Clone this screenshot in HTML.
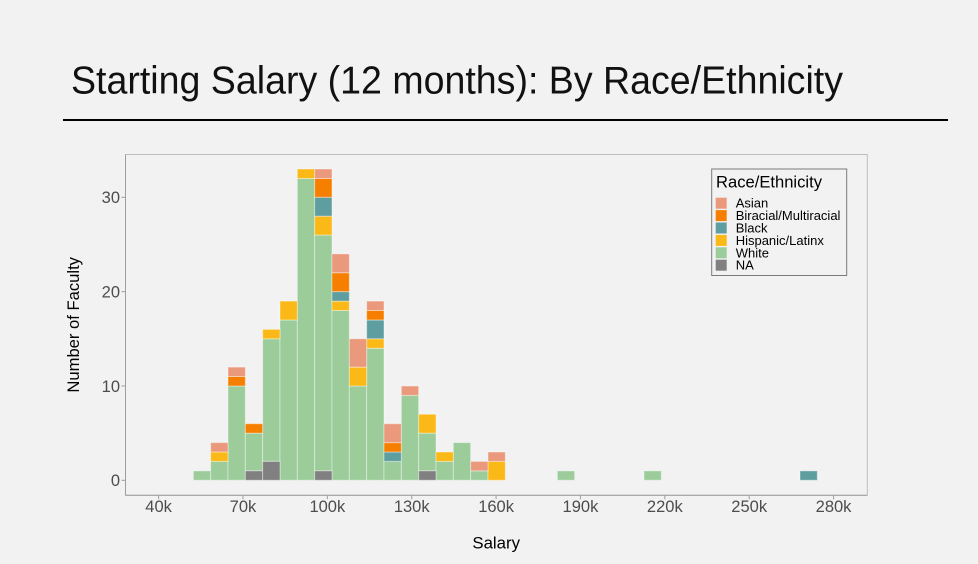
<!DOCTYPE html>
<html>
<head>
<meta charset="utf-8">
<style>
html,body{margin:0;padding:0;background:#f2f2f2;}
svg{display:block;}
text{font-family:"Liberation Sans",Arial,sans-serif;}
</style>
</head>
<body>
<svg width="978" height="564" viewBox="0 0 978 564" xmlns="http://www.w3.org/2000/svg">
<rect x="0" y="0" width="978" height="564" fill="#f2f2f2"/>
<!-- Title -->
<text x="71" y="93.3" font-size="39" fill="#111" textLength="772" lengthAdjust="spacingAndGlyphs">Starting Salary (12 months): By Race/Ethnicity</text>
<rect x="63" y="119" width="885" height="2" fill="#000"/>

<!-- Panel -->
<rect x="125.5" y="154.5" width="741.8" height="340.8" fill="#f2f2f2" stroke="#bdbdbd" stroke-width="1"/>
<line x1="125.5" y1="154.5" x2="125.5" y2="495.3" stroke="#9e9e9e" stroke-width="1"/>
<line x1="125.5" y1="495.3" x2="867.3" y2="495.3" stroke="#9e9e9e" stroke-width="1"/>

<!-- Bars -->
<g transform="translate(193.33,480.3) scale(17.333,-9.433)" stroke="#ffffff" stroke-opacity="0.4" stroke-width="1">
<g fill="#9BCC9A">
<rect vector-effect="non-scaling-stroke" x="0" y="0" width="1" height="1"/>
<rect vector-effect="non-scaling-stroke" x="1" y="0" width="1" height="2"/>
<rect vector-effect="non-scaling-stroke" x="2" y="0" width="1" height="10"/>
<rect vector-effect="non-scaling-stroke" x="3" y="1" width="1" height="4"/>
<rect vector-effect="non-scaling-stroke" x="4" y="2" width="1" height="13"/>
<rect vector-effect="non-scaling-stroke" x="5" y="0" width="1" height="17"/>
<rect vector-effect="non-scaling-stroke" x="6" y="0" width="1" height="32"/>
<rect vector-effect="non-scaling-stroke" x="7" y="1" width="1" height="25"/>
<rect vector-effect="non-scaling-stroke" x="8" y="0" width="1" height="18"/>
<rect vector-effect="non-scaling-stroke" x="9" y="0" width="1" height="10"/>
<rect vector-effect="non-scaling-stroke" x="10" y="0" width="1" height="14"/>
<rect vector-effect="non-scaling-stroke" x="11" y="0" width="1" height="2"/>
<rect vector-effect="non-scaling-stroke" x="12" y="0" width="1" height="9"/>
<rect vector-effect="non-scaling-stroke" x="13" y="1" width="1" height="4"/>
<rect vector-effect="non-scaling-stroke" x="14" y="0" width="1" height="2"/>
<rect vector-effect="non-scaling-stroke" x="15" y="0" width="1" height="4"/>
<rect vector-effect="non-scaling-stroke" x="16" y="0" width="1" height="1"/>
<rect vector-effect="non-scaling-stroke" x="21" y="0" width="1" height="1"/>
<rect vector-effect="non-scaling-stroke" x="26" y="0" width="1" height="1"/>
</g>
<g fill="#808080">
<rect vector-effect="non-scaling-stroke" x="3" y="0" width="1" height="1"/>
<rect vector-effect="non-scaling-stroke" x="4" y="0" width="1" height="2"/>
<rect vector-effect="non-scaling-stroke" x="7" y="0" width="1" height="1"/>
<rect vector-effect="non-scaling-stroke" x="13" y="0" width="1" height="1"/>
</g>
<g fill="#FBB917">
<rect vector-effect="non-scaling-stroke" x="1" y="2" width="1" height="1"/>
<rect vector-effect="non-scaling-stroke" x="4" y="15" width="1" height="1"/>
<rect vector-effect="non-scaling-stroke" x="5" y="17" width="1" height="2"/>
<rect vector-effect="non-scaling-stroke" x="6" y="32" width="1" height="1"/>
<rect vector-effect="non-scaling-stroke" x="7" y="26" width="1" height="2"/>
<rect vector-effect="non-scaling-stroke" x="8" y="18" width="1" height="1"/>
<rect vector-effect="non-scaling-stroke" x="9" y="10" width="1" height="2"/>
<rect vector-effect="non-scaling-stroke" x="10" y="14" width="1" height="1"/>
<rect vector-effect="non-scaling-stroke" x="13" y="5" width="1" height="2"/>
<rect vector-effect="non-scaling-stroke" x="14" y="2" width="1" height="1"/>
<rect vector-effect="non-scaling-stroke" x="17" y="0" width="1" height="2"/>
</g>
<g fill="#5F9EA0">
<rect vector-effect="non-scaling-stroke" x="7" y="28" width="1" height="2"/>
<rect vector-effect="non-scaling-stroke" x="8" y="19" width="1" height="1"/>
<rect vector-effect="non-scaling-stroke" x="10" y="15" width="1" height="2"/>
<rect vector-effect="non-scaling-stroke" x="11" y="2" width="1" height="1"/>
<rect vector-effect="non-scaling-stroke" x="35" y="0" width="1" height="1"/>
</g>
<g fill="#F77F00">
<rect vector-effect="non-scaling-stroke" x="2" y="10" width="1" height="1"/>
<rect vector-effect="non-scaling-stroke" x="3" y="5" width="1" height="1"/>
<rect vector-effect="non-scaling-stroke" x="7" y="30" width="1" height="2"/>
<rect vector-effect="non-scaling-stroke" x="8" y="20" width="1" height="2"/>
<rect vector-effect="non-scaling-stroke" x="10" y="17" width="1" height="1"/>
<rect vector-effect="non-scaling-stroke" x="11" y="3" width="1" height="1"/>
</g>
<g fill="#EA997D">
<rect vector-effect="non-scaling-stroke" x="1" y="3" width="1" height="1"/>
<rect vector-effect="non-scaling-stroke" x="2" y="11" width="1" height="1"/>
<rect vector-effect="non-scaling-stroke" x="7" y="32" width="1" height="1"/>
<rect vector-effect="non-scaling-stroke" x="8" y="22" width="1" height="2"/>
<rect vector-effect="non-scaling-stroke" x="9" y="12" width="1" height="3"/>
<rect vector-effect="non-scaling-stroke" x="10" y="18" width="1" height="1"/>
<rect vector-effect="non-scaling-stroke" x="11" y="4" width="1" height="2"/>
<rect vector-effect="non-scaling-stroke" x="12" y="9" width="1" height="1"/>
<rect vector-effect="non-scaling-stroke" x="16" y="1" width="1" height="1"/>
<rect vector-effect="non-scaling-stroke" x="17" y="2" width="1" height="1"/>
</g>
</g>

<!-- Y axis ticks -->
<g stroke="#9e9e9e" stroke-width="1">
<line x1="121.5" y1="480.3" x2="125.5" y2="480.3"/>
<line x1="121.5" y1="385.97" x2="125.5" y2="385.97"/>
<line x1="121.5" y1="291.64" x2="125.5" y2="291.64"/>
<line x1="121.5" y1="197.31" x2="125.5" y2="197.31"/>
</g>
<g font-size="16.5" fill="#4d4d4d" text-anchor="end">
<text x="120" y="486.2">0</text>
<text x="120" y="391.9">10</text>
<text x="120" y="297.5">20</text>
<text x="120" y="203.2">30</text>
</g>

<!-- X axis ticks -->
<g stroke="#9e9e9e" stroke-width="1">
<line x1="158.6" y1="495.3" x2="158.6" y2="499.3"/>
<line x1="242.97" y1="495.3" x2="242.97" y2="499.3"/>
<line x1="327.34" y1="495.3" x2="327.34" y2="499.3"/>
<line x1="411.71" y1="495.3" x2="411.71" y2="499.3"/>
<line x1="496.08" y1="495.3" x2="496.08" y2="499.3"/>
<line x1="580.45" y1="495.3" x2="580.45" y2="499.3"/>
<line x1="664.82" y1="495.3" x2="664.82" y2="499.3"/>
<line x1="749.19" y1="495.3" x2="749.19" y2="499.3"/>
<line x1="833.56" y1="495.3" x2="833.56" y2="499.3"/>
</g>
<g font-size="16.5" fill="#4d4d4d" text-anchor="middle">
<text x="158.6" y="512">40k</text>
<text x="242.97" y="512">70k</text>
<text x="327.34" y="512">100k</text>
<text x="411.71" y="512">130k</text>
<text x="496.08" y="512">160k</text>
<text x="580.45" y="512">190k</text>
<text x="664.82" y="512">220k</text>
<text x="749.19" y="512">250k</text>
<text x="833.56" y="512">280k</text>
</g>

<!-- Axis titles -->
<text x="496.2" y="548.3" font-size="16.8" fill="#000" text-anchor="middle">Salary</text>
<text transform="translate(79,324.8) rotate(-90)" x="0" y="0" font-size="16.6" fill="#000" text-anchor="middle">Number of Faculty</text>

<!-- Legend -->
<rect x="711.7" y="169" width="135" height="106.5" fill="#f2f2f2" stroke="#7a7a7a" stroke-width="1"/>
<text x="716" y="187.3" font-size="16.4" fill="#000" textLength="106" lengthAdjust="spacingAndGlyphs">Race/Ethnicity</text>
<rect x="715.7" y="197.7" width="11" height="11" fill="#EA997D"/>
<rect x="715.7" y="210.1" width="11" height="11" fill="#F77F00"/>
<rect x="715.7" y="222.5" width="11" height="11" fill="#5F9EA0"/>
<rect x="715.7" y="234.9" width="11" height="11" fill="#FBB917"/>
<rect x="715.7" y="247.3" width="11" height="11" fill="#9BCC9A"/>
<rect x="715.7" y="259.7" width="11" height="11" fill="#808080"/>
<g font-size="13" fill="#000">
<text x="735.7" y="207.7">Asian</text>
<text x="735.7" y="220.1">Biracial/Multiracial</text>
<text x="735.7" y="232.5">Black</text>
<text x="735.7" y="244.9">Hispanic/Latinx</text>
<text x="735.7" y="257.3">White</text>
<text x="735.7" y="269.7">NA</text>
</g>
</svg>
</body>
</html>
